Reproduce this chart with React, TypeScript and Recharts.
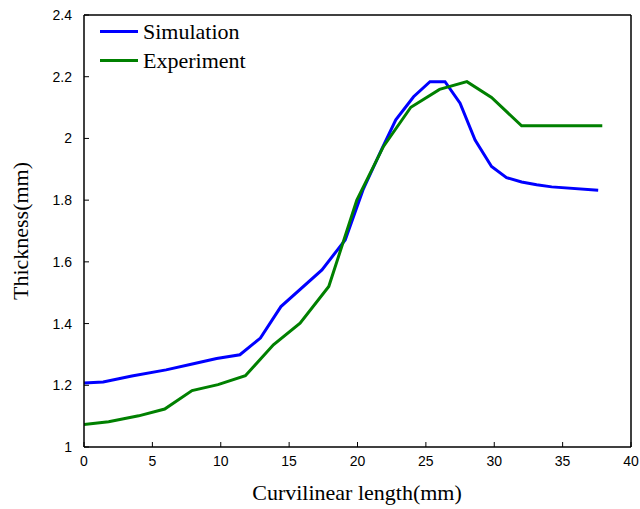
import React from 'react';
import { LineChart, Line, XAxis, YAxis } from 'recharts';

// curvilinear length (mm) / thickness (mm)
const simX = [0, 1.4, 3.5, 6, 8, 9.7, 11.4, 12.9, 14.4, 17.4, 19.1, 20.4, 21.8, 22.8, 24.1, 25.3, 26.4, 27.5, 28.6, 29.8, 30.9, 32, 33.1, 34.2, 37.6];
const simY = [1.207, 1.211, 1.23, 1.25, 1.27, 1.287, 1.299, 1.353, 1.455, 1.574, 1.671, 1.833, 1.968, 2.06, 2.135, 2.184, 2.184, 2.114, 1.995, 1.909, 1.873, 1.859, 1.85, 1.843, 1.832];

const expX = [0, 1.8, 4, 5.9, 7.9, 9.8, 11.8, 13.85, 15.8, 17.9, 19.95, 21.9, 23.9, 26, 28, 29.8, 32, 37.9];
const expY = [1.073, 1.082, 1.101, 1.123, 1.183, 1.202, 1.231, 1.331, 1.401, 1.52, 1.8, 1.974, 2.101, 2.159, 2.184, 2.133, 2.041, 2.041];

const xTicks = [0, 5, 10, 15, 20, 25, 30, 35, 40];
const yTicks = [1, 1.2, 1.4, 1.6, 1.8, 2, 2.2, 2.4];

const seriesNames = ['Simulation', 'Experiment'];
const seriesColors = ['#0000ff', '#008000'];

const simData = simX.map((x, i) => ({ x, y: simY[i] }));
const expData = expX.map((x, i) => ({ x, y: expY[i] }));

const SERIF = '"Liberation Serif", "Times New Roman", serif';
const SANS = '"Liberation Sans", Arial, sans-serif';
const tickStyle = { fontFamily: SANS, fontSize: 14, fill: '#000' };
const axisLine = { stroke: '#000', strokeWidth: 1.5 };

// legend drawn as an overlay so it doesn't eat into the plot area
const LegendBox = () => (
  <div style={{ position: 'absolute', left: 100, top: 17, fontFamily: SERIF, fontSize: 22, color: '#000' }}>
    {seriesNames.map((name, i) => (
      <div key={name} style={{ display: 'flex', alignItems: 'center', height: 29 }}>
        <div style={{ width: 38, height: 3, background: seriesColors[i], marginRight: 5 }} />
        <span style={{ lineHeight: '29px' }}>{name}</span>
      </div>
    ))}
  </div>
);

export default function App() {
  return (
    <div style={{ position: 'absolute', left: 0, top: 0, width: 640, height: 509, background: '#fff' }}>
      <LineChart width={640} height={509} margin={{ top: 14, right: 8, left: 0, bottom: 0 }}>
        <XAxis
          xAxisId="b"
          dataKey="x"
          type="number"
          domain={[0, 40]}
          ticks={xTicks}
          allowDataOverflow
          height={62}
          tickSize={-5}
          tickMargin={14}
          tick={tickStyle}
          axisLine={axisLine}
          tickLine={{ stroke: '#000' }}
          label={{
            content: () => (
              <text x={357} y={500} textAnchor="middle" fontFamily={SERIF} fontSize={22} fill="#000">
                Curvilinear length(mm)
              </text>
            ),
          }}
        />
        <XAxis
          xAxisId="t"
          orientation="top"
          dataKey="x"
          type="number"
          domain={[0, 40]}
          ticks={xTicks}
          allowDataOverflow
          height={1}
          tickSize={-5}
          tick={false}
          axisLine={axisLine}
          tickLine={{ stroke: '#000' }}
        />
        <YAxis
          yAxisId="l"
          type="number"
          domain={[1, 2.4]}
          ticks={yTicks}
          allowDataOverflow
          width={84}
          tickSize={-5}
          tickMargin={17}
          tick={tickStyle}
          axisLine={axisLine}
          tickLine={{ stroke: '#000' }}
          label={{
            content: () => (
              <text x={28} y={231} transform="rotate(-90 28 231)" textAnchor="middle" fontFamily={SERIF} fontSize={22} fill="#000">
                Thickness(mm)
              </text>
            ),
          }}
        />
        <YAxis
          yAxisId="r"
          orientation="right"
          type="number"
          domain={[1, 2.4]}
          ticks={yTicks}
          allowDataOverflow
          width={1}
          tickSize={-5}
          tick={false}
          axisLine={axisLine}
          tickLine={{ stroke: '#000' }}
        />
        <Line
          xAxisId="b"
          yAxisId="l"
          data={simData}
          dataKey="y"
          name={seriesNames[0]}
          type="linear"
          stroke={seriesColors[0]}
          strokeWidth={3}
          dot={false}
          isAnimationActive={false}
        />
        <Line
          xAxisId="b"
          yAxisId="l"
          data={expData}
          dataKey="y"
          name={seriesNames[1]}
          type="linear"
          stroke={seriesColors[1]}
          strokeWidth={3}
          dot={false}
          isAnimationActive={false}
        />
      </LineChart>
      <LegendBox />
    </div>
  );
}
